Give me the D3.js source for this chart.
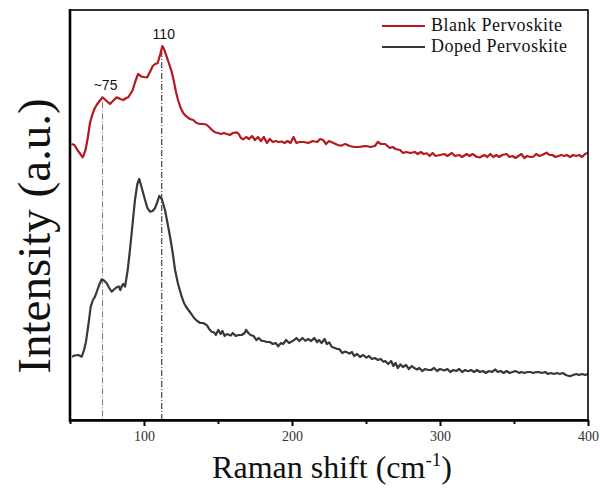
<!DOCTYPE html>
<html><head><meta charset="utf-8">
<script src="https://cdn.jsdelivr.net/npm/d3@7"></script>
<style>html,body{margin:0;padding:0;background:#fff;}svg{display:block;}</style>
</head><body>
<svg id="chart" width="600" height="496"></svg>
<script>
// ---- data ----
const seriesNames = ["Blank Pervoskite", "Doped Pervoskite"];
const seriesColors = ["#b3191f", "#383838"];
const xTicks = [50, 100, 150, 200, 250, 300, 350, 400];
const xTickLabels = ["", "100", "", "200", "", "300", "", "400"];
const peakPositions = [72, 112];
const peakLabels = ["~75", "110"];

const blankShift = [51,53,55,57,58.6,60.5,62,63.5,65,66.5,68,70,72,74,77,79,81.5,84,86,88,89.4,92.4,94,96,98.4,100,102.2,104,105.9,107.5,109.2,111,112.4,113.8,115.3,117,118.7,120,121.6,123,124.8,126.5,128.8,131,133.3,135.5,137.8,140,142,144,146,148,150,152,154,155.9,158,160,162.6,164,165.5,167,169,171,173,175,177,179,181,183,185,187,189,191,193,195,197,199,201,203,205,208,211,214,217,219,221,223,225,228,231,233,236,239,242,245,248,250,253,256,258,260,263,266,268,270,273,275,277,280,283,285,287,289,291,293,295,297,300,303,305,308,310,313,315,318,320,322,325,327,330,332,334,336,338,340,342,345,347,349,351,353,355,357,359,361,363,365,367,369,372,374,376,378,380,382,384,385.6,388,390,392,394,396,398,400];
const blankIntensity = [276,275,270,266,262.7,270,282,297,305,311,315,319,322.7,320,316,319,322.7,321,320,322,322.7,330,338,346,343.3,343,342.7,348,354,356,356.7,366,374,370,363.3,356,348.3,340,328.3,320,312,307,303.3,301,300,297,296,296,295.5,293,290,287.7,287,286,287,286,285,287,287.7,286,282,280.7,283,281,284,280,283,279,283,277,281,278,279,278,278.5,277,279,277,283,277,278,278,277,279,278,281,280,276,279,277,275,274.3,276,274,273,273,273.7,274,273,274,278,276,276,272,273,271,270,267,268,267,268,266,268,266,266.7,264,267,264,265,266,264,267,264,265,263,266,264,266,263,262.7,265,263,266,263,265,263,265,266,263,264,262,264,266,262,264,263,263.3,266,264,265,267.3,265,265,263,264,265,264,265,263,265,264,265,263,266,267.3];

const dopedShift = [51.4,53,55.6,57,57.9,59.5,60.8,62.5,64,65.5,66.9,68.5,70,71.4,73,74.8,76.5,78.2,80,81.5,83,84,85,86,87.2,89,90.5,92.2,93.9,95.5,96.8,98.5,100.7,102.3,104,105.8,107.4,109,110.3,112,114.2,116,117.6,119.3,121,123,125.5,127,128.5,130,132,134,136,138,140,141.2,142.6,144,145.7,147.2,148.5,150.2,151.8,153,154.5,156,158.6,160,162,164,166,168,169,170.5,172,174,176,177.5,179.3,181,183,185,187,189,190.7,192.5,194,196,198,199.9,201.5,203,205,207,209,211,213,215,217,218.2,220,222,223.5,225.1,227,229,230.5,232,234,236,238.8,240.5,242,244,246,248,250.3,252,254,256,258,260,261.7,263,265,267,268.5,270,271.5,273.2,275,277,279,281,282.5,284.6,286,288,290,292,294,296,298,300,303,305,307,309,311,313,315,317,319,321,323,325,327,329,331,333,335,337.4,339,341,343,345,347,349,351,353.4,355,357,359,361,363,365,367.1,369,371,373,375,377,379,381,383,385,387.7,390,392,394,396,398,400];
const dopedIntensity = [63.3,64.5,65,64,63.3,70,78.3,96,113.3,120,123.3,130,136,140.7,139.5,136.7,132,128.3,131,132.7,133.5,130,134,136,133.3,150,170,195,220,236,241,232,220,212,208.3,209,211.7,218,224,221,210,196,183.3,168,150,136,123.3,117,113,110,106,101.7,99,97,97,96,94.6,91,88.3,87.8,85,90,86,89,84,86,84.4,87,84,85,85,87,90.2,87,85,84,80,82,79.3,79,78,78,76,77,73.6,77,76,80,77,78.6,80,82,79,82,79.3,81,79,82,78,80,77,81,76,77.6,73,72,71,70.8,67,68.5,66.4,68,64,66,63,65,62.4,64,61,62,60,61,58.3,59,56,59,54,57,52,55.6,53,55,51,54,52,50.5,52,49,51,50,50,52,49,51,49.5,51,48,50,49,51,48,50,48.8,50,48,50,48,49,47,49,48,50.5,48,49,47,49,47,48,49,47.1,48,47,48,48,47,48,47.8,47,48,46,47,46,47,46,47,45,43.7,45,46,45,46,45,46];

// ---- layout ----
const svg = d3.select("#chart");
const mLeft = 70, mRight = 588, mTop = 10, mBottom = 420;
const x = d3.scaleLinear().domain([50, 400]).range([mLeft, mRight]);
const y = d3.scaleLinear().domain([0, 410]).range([mBottom, mTop]);

const series = [
  {name: seriesNames[0], color: seriesColors[0], pts: blankShift.map((s, i) => [s, blankIntensity[i]])},
  {name: seriesNames[1], color: seriesColors[1], pts: dopedShift.map((s, i) => [s, dopedIntensity[i]])}
];

// peak guide lines
const peakTop = [blankIntensity[blankShift.indexOf(72)], blankIntensity[blankShift.indexOf(112.4)]];
const peakColors = ["#777", "#222"];
peakPositions.forEach((p, i) => {
  svg.append("line")
    .attr("x1", x(p)).attr("x2", x(p))
    .attr("y1", y(peakTop[i]) + 5).attr("y2", mBottom)
    .attr("stroke", peakColors[i]).attr("stroke-width", 1)
    .attr("stroke-dasharray", "6,2,1,2");
});

// curves
const line = d3.line().x(d => x(d[0])).y(d => y(d[1]));
series.forEach(s => {
  svg.append("path").datum(s.pts)
    .attr("d", line).attr("fill", "none")
    .attr("stroke", s.color).attr("stroke-width", 2.2)
    .attr("stroke-linejoin", "round");
});

// peak labels
peakPositions.forEach((p, i) => {
  svg.append("text")
    .attr("x", x(p) + (i === 0 ? 3 : 2))
    .attr("y", y(peakTop[i]) - (i === 0 ? 7 : 7))
    .attr("text-anchor", "middle")
    .attr("font-family", "Liberation Sans, Arial, sans-serif")
    .attr("font-size", 14).attr("fill", "#111")
    .text(peakLabels[i]);
});

// frame
svg.append("rect").attr("x", mLeft).attr("y", mTop)
  .attr("width", mRight - mLeft).attr("height", mBottom - mTop)
  .attr("fill", "none").attr("stroke", "#000").attr("stroke-width", 1.6);

// x axis
const xAxis = d3.axisBottom(x).tickValues(xTicks)
  .tickSize(0).tickFormat((d, i) => xTickLabels[i]);
const gx = svg.append("g").attr("transform", `translate(0,${mBottom})`).call(xAxis);
gx.select(".domain").attr("stroke", "#000").attr("stroke-width", 2.6);
gx.selectAll(".tick line").remove();
gx.selectAll(".tick").append("line")
  .attr("y1", 0).attr("y2", (d, i) => xTickLabels[i] ? 6 : 4)
  .attr("stroke", "#000").attr("stroke-width", 2);
gx.selectAll(".tick text")
  .attr("y", 21).attr("dy", 0)
  .attr("font-family", "Liberation Serif, Times New Roman, serif")
  .attr("font-size", 14).attr("fill", "#333");

// y axis line (left, thicker)
svg.append("line").attr("x1", mLeft).attr("x2", mLeft)
  .attr("y1", mTop - 1).attr("y2", mBottom + 2)
  .attr("stroke", "#000").attr("stroke-width", 2.6);

// axis titles
const xt = svg.append("text")
  .attr("x", (mLeft + mRight) / 2 + 3).attr("y", 478)
  .attr("text-anchor", "middle")
  .attr("font-family", "Liberation Serif, Times New Roman, serif")
  .attr("font-size", 32).attr("fill", "#111");
xt.append("tspan").text("Raman shift (cm");
xt.append("tspan").attr("font-size", 19).attr("dy", -12).text("-1");
xt.append("tspan").attr("dy", 12).text(")");

svg.append("text")
  .attr("transform", `translate(50,236) rotate(-90)`)
  .attr("text-anchor", "middle")
  .attr("font-family", "Liberation Serif, Times New Roman, serif")
  .attr("font-size", 47).attr("fill", "#111")
  .text("Intensity (a.u.)");

// legend
series.forEach((s, i) => {
  const ly = 26 + i * 21;
  svg.append("line").attr("x1", 382).attr("x2", 425)
    .attr("y1", ly).attr("y2", ly)
    .attr("stroke", s.color).attr("stroke-width", 2.2);
  svg.append("text").attr("x", 431).attr("y", ly + 5)
    .attr("font-family", "Liberation Serif, Times New Roman, serif")
    .attr("font-size", 18).attr("letter-spacing", 0.5).attr("fill", "#111")
    .text(s.name);
});
</script>
</body></html>
